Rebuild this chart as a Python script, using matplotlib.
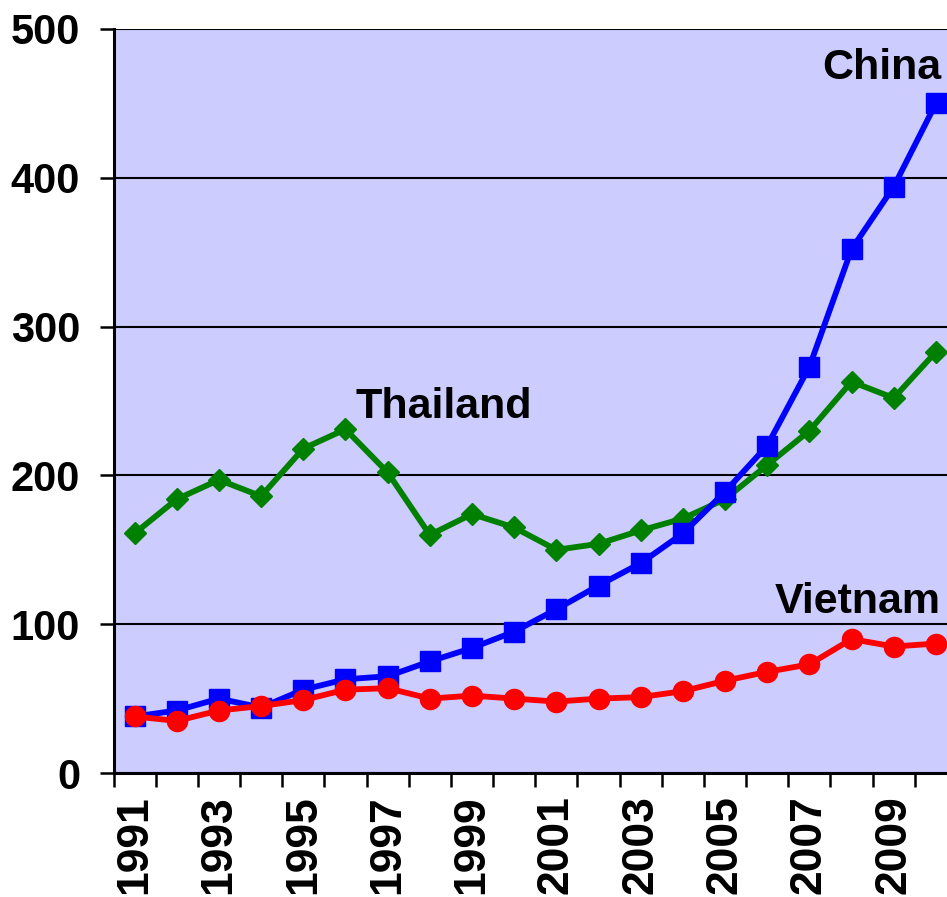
import matplotlib
matplotlib.use("Agg")
import matplotlib.pyplot as plt
import numpy as np

years = list(range(1991, 2011))
china = [38, 42, 50, 44, 56, 63, 65, 75, 84, 95, 110, 126, 141, 161, 189, 220, 273, 352, 394, 450]
thailand = [161, 184, 197, 186, 218, 231, 202, 160, 174, 165, 150, 154, 163, 171, 184, 207, 230, 263, 252, 283]
vietnam = [38, 35, 42, 45, 49, 56, 57, 50, 52, 50, 48, 50, 51, 55, 62, 68, 73, 90, 85, 87]
ytick_vals = [0, 100, 200, 300, 400, 500]
xlabels = [str(y) if (y - 1991) % 2 == 0 else "" for y in years]

plt.rcParams['font.family'] = ['Liberation Sans', 'DejaVu Sans']
plt.rcParams['font.weight'] = 'bold'

fig = plt.figure(figsize=(9.47, 8.97), dpi=100)
ax = fig.add_axes([113.5/947, (897-773)/897, (957-113.5)/947, (773-29)/897])
ax.set_facecolor('#CCCCFF')

x = np.arange(len(years))
ax.plot(x, china, color='#0000FF', lw=4.2, marker='s', ms=14, zorder=4)
ax.plot(x, thailand, color='#008000', lw=4.2, marker='D', ms=11.5, zorder=3)
ax.plot(x, vietnam, color='#FF0000', lw=4.2, marker='o', ms=14.5, zorder=5)

ax.set_xlim(-0.5, len(years) - 0.5)
ax.set_ylim(0, 500)
ax.set_yticks(ytick_vals)
ax.set_yticklabels([str(v) for v in ytick_vals], fontsize=30, fontweight='bold')
ax.yaxis.grid(True, color='black', lw=1.5)
ax.set_axisbelow(True)

ax.set_xticks(np.arange(-0.5, len(years), 1.0))
ax.set_xticklabels([])
ax.set_xticks(x, minor=True)
ax.set_xticklabels(xlabels, minor=True, rotation=90, fontsize=32, fontweight='bold')
ax.tick_params(axis='x', which='major', length=10, width=1.8, direction='out')
ax.tick_params(axis='x', which='minor', length=0, pad=16)
ax.tick_params(axis='y', length=10, width=1.8, pad=14)

for s in ['top', 'right']:
    ax.spines[s].set_visible(False)
for s in ['left', 'bottom']:
    ax.spines[s].set_linewidth(2.2)

ax.text(19.12, 474, "China", ha='right', va='center', fontsize=31, fontweight='bold')
ax.text(5.23, 246, "Thailand", ha='left', va='center', fontsize=31, fontweight='bold')
ax.text(19.12, 115, "Vietnam", ha='right', va='center', fontsize=31, fontweight='bold')

fig.savefig("out.png", dpi=100)
